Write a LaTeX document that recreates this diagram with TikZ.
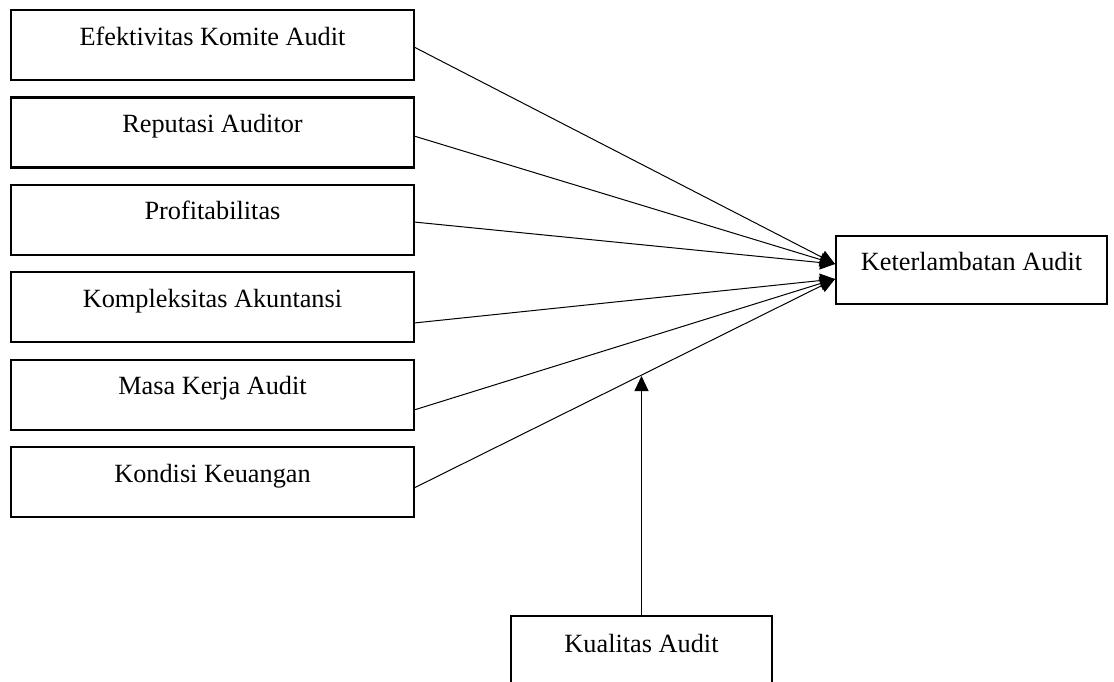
\documentclass[tikz,border=0pt]{standalone}
\usepackage{fontspec}
\setmainfont{Liberation Serif}
\usetikzlibrary{arrows.meta}
\begin{document}
\begin{tikzpicture}[x=1pt,y=-1pt,
  box/.style={draw, line width=2.2pt, minimum width=403pt, minimum height=70pt,
    inner sep=0pt, text height=10pt, text depth=10pt,
    font=\fontsize{26.3}{30}\selectfont},
  conn/.style={line width=1pt, -{Triangle[length=15pt,width=14pt]}}]
\useasboundingbox (0,0) rectangle (1114,681);
\clip (0,0) rectangle (1114,681);
\node[box] (b1) at (212.5,45) {Efektivitas Komite Audit};
\node[box] (b2) at (212.5,132.4) {Reputasi Auditor};
\node[box] (b3) at (212.5,219.8) {Profitabilitas};
\node[box] (b4) at (212.5,307.2) {Kompleksitas Akuntansi};
\node[box] (b5) at (212.5,394.6) {Masa Kerja Audit};
\node[box] (b6) at (212.5,482) {Kondisi Keuangan};
\node[box, minimum width=271pt, minimum height=68pt] (r) at (971.5,270) {Keterlambatan Audit};
\node[box, minimum width=261pt, minimum height=72pt] (q) at (641.5,652) {Kualitas Audit};
\coordinate (s1) at (414,47);
\coordinate (s2) at (414,136);
\coordinate (s3) at (414,222);
\coordinate (s4) at (414,323);
\coordinate (s5) at (414,410);
\coordinate (s6) at (414,488);
\coordinate (tA) at (835,264);
\coordinate (tB) at (835,279);
\coordinate (k) at (641.5,376);
\draw[conn] (s1) -- (tA);
\draw[conn] (s2) -- (tA);
\draw[conn] (s3) -- (tA);
\draw[conn] (s4) -- (tB);
\draw[conn] (s5) -- (tB);
\draw[conn] (s6) -- (tB);
\draw[conn] (q.north) -- (k);
\end{tikzpicture}
\end{document}
